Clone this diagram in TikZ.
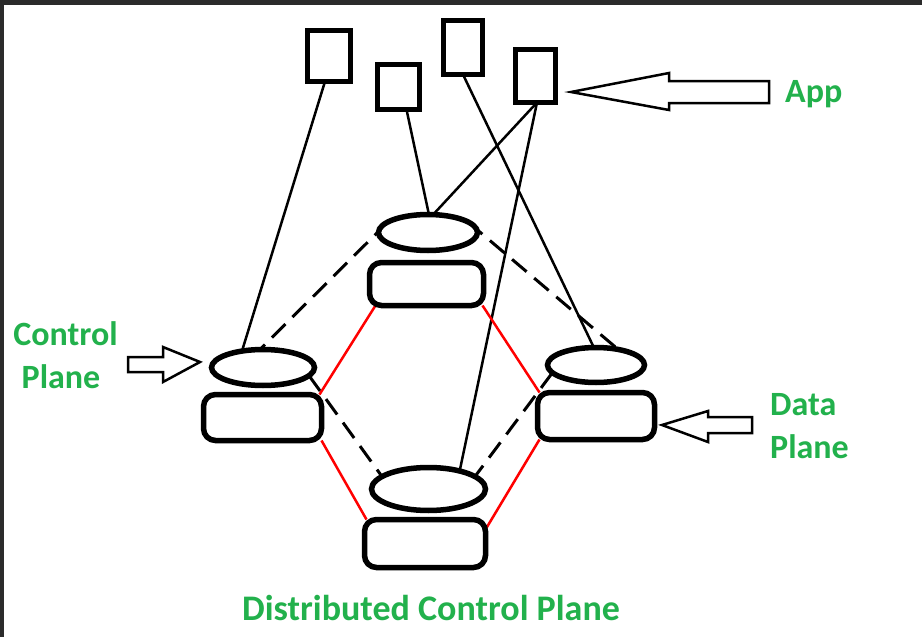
\documentclass[tikz,border=0pt]{standalone}
\usepackage{fontspec}
\setmainfont{Carlito}
\usetikzlibrary{shapes.geometric,backgrounds}
\definecolor{labelgreen}{HTML}{22B14C}
\definecolor{framegray}{HTML}{2B2B2B}

\begin{document}
\begin{tikzpicture}[x=1pt,y=-1pt,
  appbox/.style={draw,line width=5pt,fill=white,inner sep=0pt,outer sep=0pt},
  ctrl/.style={ellipse,draw,line width=5.5pt,fill=white,inner sep=0pt,outer sep=0pt},
  dev/.style={draw,line width=5.5pt,rounded corners=12pt,fill=white,inner sep=0pt,outer sep=0pt},
  link/.style={line width=2.5pt},
  peer/.style={line width=3pt,dash pattern=on 19pt off 10pt},
  wire/.style={line width=2.5pt,red},
  pointer/.style={draw,line width=2.5pt,line join=miter,fill=white},
  label/.style={text=labelgreen,font=\fontsize{34}{41}\selectfont\bfseries,inner sep=0pt}
]
\useasboundingbox (0,0) rectangle (922,637);

% applications
\node[appbox,minimum width=43pt,minimum height=51pt] (a1) at (329,56) {};
\node[appbox,minimum width=42pt,minimum height=45pt] (a2) at (398.5,87) {};
\node[appbox,minimum width=39pt,minimum height=54pt] (a3) at (463,47.5) {};
\node[appbox,minimum width=40pt,minimum height=53pt] (a4) at (535.5,76) {};

% controllers (ellipses) and switches (rounded boxes)
\node[ctrl,minimum width=99pt,minimum height=36pt] (eT) at (428,232.5) {};
\node[dev,minimum width=114pt,minimum height=43pt] (rT) at (426.5,284) {};
\node[ctrl,minimum width=103pt,minimum height=36pt] (eL) at (263,367.5) {};
\node[dev,minimum width=118pt,minimum height=46pt] (rL) at (262.5,417.5) {};
\node[ctrl,minimum width=97pt,minimum height=35pt] (eR) at (596,365) {};
\node[dev,minimum width=117pt,minimum height=47pt] (rR) at (596,416) {};
\node[ctrl,minimum width=114pt,minimum height=43pt] (eB) at (428.5,489) {};
\node[dev,minimum width=121pt,minimum height=48pt] (rB) at (425,543.5) {};

\begin{scope}[on background layer]
  \fill[white] (0,0) rectangle (922,637);
  % application to controller links
  \draw[link] ([xshift=-4pt]a1.south) -- (eL.142);
  \draw[link] ([xshift=8pt]a2.south) -- (eT.87);
  \draw[link] (a3.south) -- (eR.97);
  \draw[link] ([xshift=1.5pt]a4.south) -- (eT.74);
  \draw[link] ([xshift=1.5pt]a4.south) -- (eB.30);
  % controller to controller links
  \draw[peer] (eT.165) -- (eL.100);
  \draw[peer] (eT.15) -- (eR.35);
  \draw[peer] (eL.-10) -- (eB.165);
  \draw[peer] (eR.190) -- (eB.15);
  % switch to switch links
  \draw[wire] ([xshift=6pt]rT.south west) -- ([xshift=-2pt]rL.north east);
  \draw[wire] ([xshift=-1pt]rT.south east) -- ([xshift=2pt]rR.north west);
  \draw[wire] (rL.south east) -- ([xshift=2pt]rB.north west);
  \draw[wire] ([xshift=2pt]rR.south west) -- ([yshift=-10pt]rB.north east);
\end{scope}

% hollow pointers
\draw[pointer] (571,92) -- (669,73) -- (669,81) -- (769,81) -- (769,103)
  -- (669,103) -- (669,110) -- cycle;
\draw[pointer] (200,362) -- (163,347) -- (163,357) -- (128,357) -- (128,372)
  -- (163,372) -- (163,382) -- cycle;
\draw[pointer] (662,425) -- (708,411) -- (708,417) -- (752,417) -- (752,433)
  -- (708,433) -- (708,442) -- cycle;

% labels
\node[label,anchor=base west] (tApp) at (785,102) {App};
\node[label,anchor=base] (tCtl1) at (65.5,345) {Control};
\node[label,anchor=base] (tCtl2) at (61,388) {Plane};
\node[label,anchor=base west] (tDat1) at (770,415) {Data};
\node[label,anchor=base west] (tDat2) at (770,458) {Plane};
\node[label,anchor=base west,font=\fontsize{36}{43}\selectfont\bfseries] (tDist) at (242,620) {Distributed Control Plane};

% window frame edges
\fill[framegray] (0,0) rectangle (922,5);
\fill[framegray] (0,0) rectangle (3.5,637);
\end{tikzpicture}
\end{document}
